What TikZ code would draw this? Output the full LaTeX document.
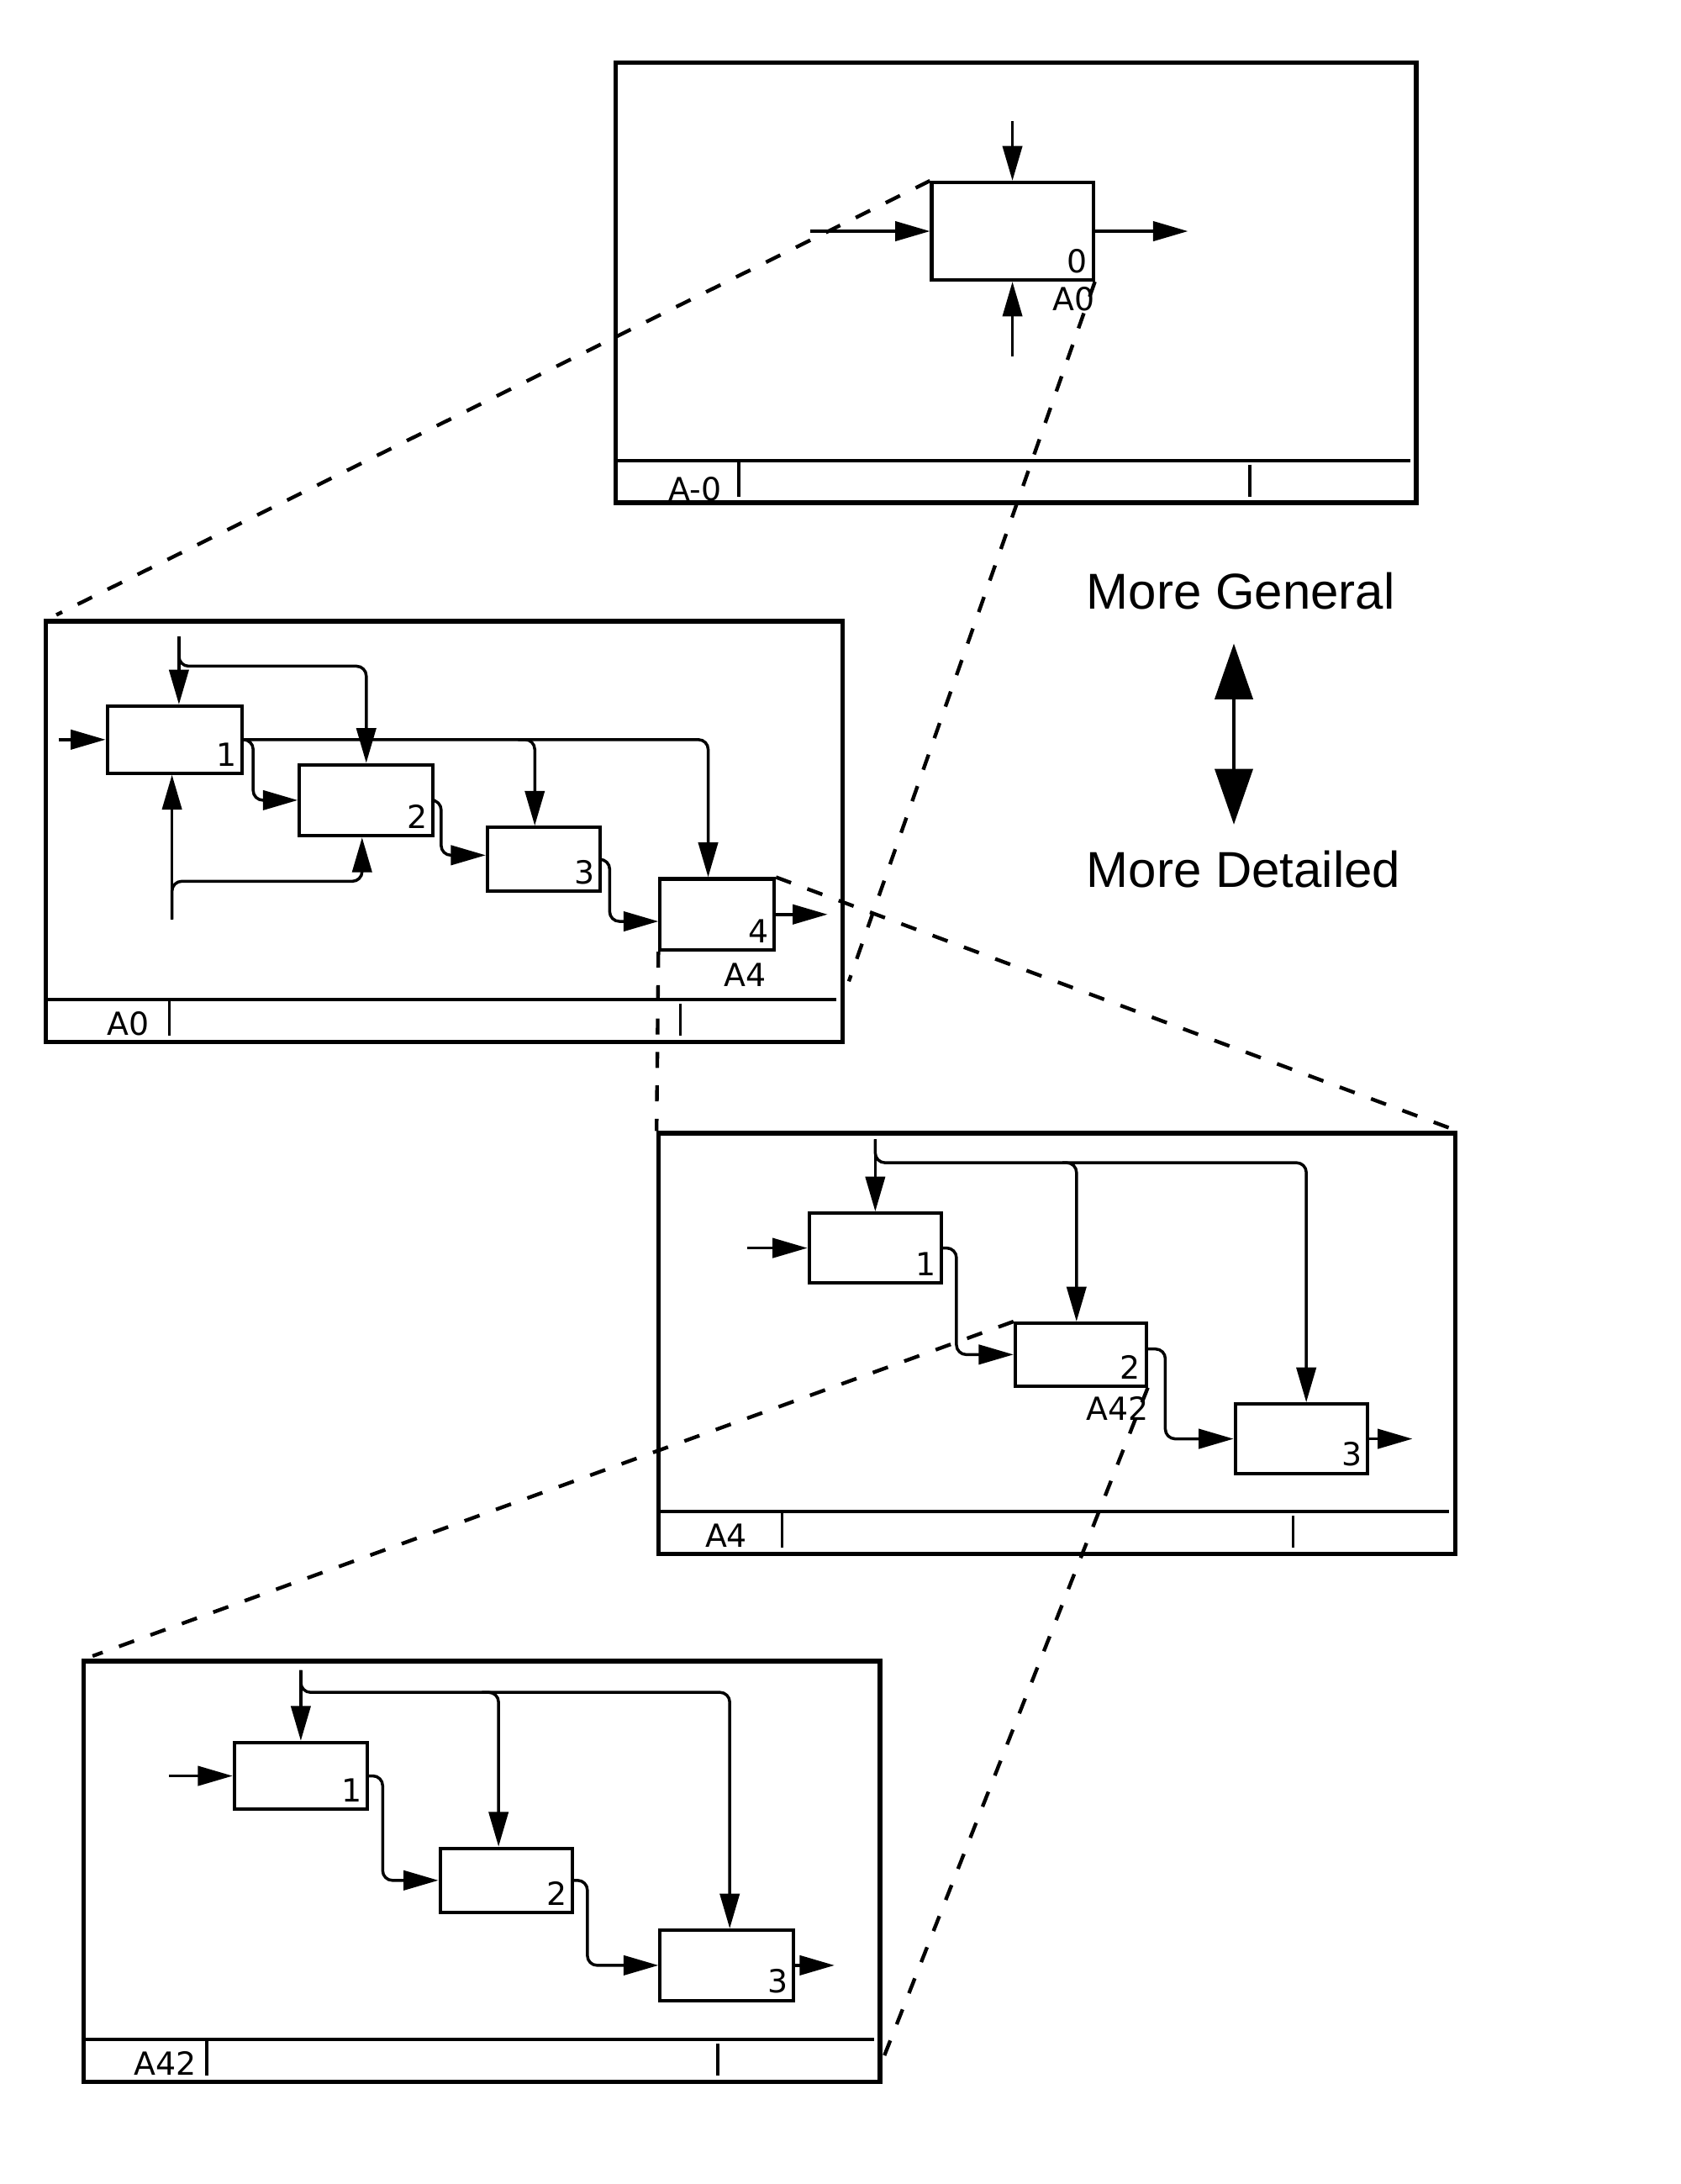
\documentclass[tikz,border=0pt]{standalone}
\usepackage{fontspec}
\setmainfont{DejaVu Sans}
\newfontfamily\levelfont{Liberation Sans}
\usepackage{tikz}
\usetikzlibrary{positioning,arrows.meta,calc}

\begin{document}
\begin{tikzpicture}[
  x=0.02cm, y=-0.02cm,
  sheet/.style={rectangle, draw, line width=1.8pt, inner sep=0pt,
                minimum width=11.44cm, minimum height=6.04cm},
  activity/.style={rectangle, draw, line width=1.4pt, inner sep=0pt,
                   minimum width=1.9cm, minimum height=0.98cm},
  num/.style={font=\fontsize{13}{15}\selectfont, inner sep=0pt},
  flow/.style={-{Triangle[length=0.5cm, width=0.28cm]}, line width=1.2pt, rounded corners=0.14cm},
  zoomline/.style={dash pattern=on 0.23cm off 0.25cm, line width=1.5pt},
  bigarrow/.style={{Triangle[length=0.8cm, width=0.54cm]}-{Triangle[length=0.8cm, width=0.54cm]}, line width=1.6pt},
  levels/.style={font=\levelfont\fontsize{20.6}{24}\selectfont, inner sep=0pt}
]
\useasboundingbox (0,0) rectangle (1207,1568);

\node[sheet, minimum width=11.5cm, minimum height=6.32cm] (F1) at (729.5,203) {};
\node[sheet] (F2) at (319,597) {};
\node[sheet] (F3) at (759,964.5) {};
\node[sheet] (F4) at (346,1343.5) {};

\foreach \f/\t/\dx/\dy in {F1/A-0/58.5/3, F2/A0/60.5/6, F3/A4/50/6, F4/A42/60/6} {
  \draw[line width=1.5pt] ($(\f.south west)+(0,-32)$) -- ($(\f.south east)+(-6,-32)$);
  \draw[line width=1.2pt] ($(\f.south west)+(90,-32)$) -- ($(\f.south west)+(90,-6)$);
  \draw[line width=1.2pt] ($(\f.south west)+(457,-29)$) -- ($(\f.south west)+(457,-6)$);
  \node[num, anchor=base] (\f-id) at ($(\f.south west)+(\dx,-\dy)$) {\t};
}

\node[activity, minimum width=2.32cm, minimum height=1.4cm] (A0box) at (727,166) {};
\node[activity, minimum width=1.94cm, minimum height=0.96cm] (B1) at (125.5,531) {};
\node[activity, minimum width=1.92cm, minimum height=1.02cm] (B2) at (263,574.5) {};
\node[activity, minimum width=1.62cm, minimum height=0.92cm] (B3) at (390.5,617) {};
\node[activity, minimum width=1.64cm, minimum height=1.02cm] (B4) at (515,656.5) {};
\node[activity, minimum height=1.0cm] (C1) at (628.5,896) {};
\node[activity, minimum width=1.88cm, minimum height=0.9cm] (C2) at (776,972.5) {};
\node[activity, minimum height=1.0cm] (C3) at (934.5,1033) {};
\node[activity, minimum width=1.91cm, minimum height=0.96cm] (D1) at (216,1275) {};
\node[activity, minimum height=0.92cm] (D2) at (363.5,1350) {};
\node[activity, minimum width=1.92cm, minimum height=1.01cm] (D3) at (522,1411) {};

\foreach \b/\n in {A0box/0, B1/1, B2/2, B3/3, B4/4, C1/1, C2/2, C3/3, D1/1, D2/2, D3/3}
  \node[num, anchor=south east] (\b-no) at ($(\b.south east)+(-5,-6)$) {\n};

\node[num, anchor=north east] (A0box-ref) at ($(A0box.south east)+(0,3.5)$) {A0};
\node[num, anchor=north east] (B4-ref) at ($(B4.south east)+(-7,8)$) {A4};
\node[num, anchor=north east] (C2-ref) at ($(C2.south east)+(1,6)$) {A42};

% context
\coordinate (ctx-c) at (727,87);
\coordinate (ctx-i) at (582,166);
\coordinate (ctx-o) at (853,166);
\coordinate (ctx-m) at (727,256);
\foreach \s/\e in {ctx-c/A0box.north, ctx-i/A0box.west, A0box.east/ctx-o, ctx-m/A0box.south}
  \draw[flow] (\s) -- (\e);

% A0
\coordinate (a0-c) at (128.5,457);
\coordinate (a0-i) at (42,531);
\coordinate (a0-m) at (123.5,660);
\coordinate (a0-o) at ($(B4.east)+(37,0)$);
\coordinate (b3c) at ($(B3.north)+(-6.5,0)$);
\draw[flow] (a0-c) -- (a0-c |- B1.north);
\draw[flow] (a0-c) |- ($(B2.north)+(0,-69.5)$) -- (B2.north);
\draw[flow] (a0-i) -- (B1.west);
\draw[flow] (a0-m) -- (a0-m |- B1.south);
\draw[flow] (a0-m) |- ($(B2.south)+(-3,31.5)$) -- ($(B2.south)+(-3,0)$);
\draw[flow] (B1.east) -| ($(B4.north)+(-6.5,0)$);
\draw[flow] ($(B1.east -| b3c)+(-12,0)$) -| (b3c);
\draw[flow] (B1.east) -| ($(B2.west)+(-32,0)$) -- (B2.west);
\draw[flow] (B2.east) -| ($(B3.west)+(-32,-3)$) -- ($(B3.west)+(0,-3)$);
\draw[flow] (B3.east) -| ($(B4.west)+(-35,5)$) -- ($(B4.west)+(0,5)$);
\draw[flow] (B4.east) -- (a0-o);

% A4
\coordinate (a4-c) at (628.5,818);
\coordinate (a4-i) at (536.5,896);
\coordinate (a4-o) at ($(C3.east)+(31,0)$);
\coordinate (a4-bus) at ($(C3.north)+(3.5,-172)$);
\coordinate (c2c) at ($(C2.north)+(-3,0)$);
\draw[flow] (a4-c) -- (C1.north);
\draw[flow] (a4-c) |- (a4-bus) -- ($(C3.north)+(3.5,0)$);
\draw[flow] ($(c2c |- a4-bus)+(-10,0)$) -| (c2c);
\draw[flow] (a4-i) -- (C1.west);
\draw[flow] (C1.east) -| ($(C2.west)+(-41,0)$) -- (C2.west);
\draw[flow] ($(C2.east)+(0,-4)$) -| ($(C3.west)+(-49,0)$) -- (C3.west);
\draw[flow] (C3.east) -- (a4-o);

% A42
\coordinate (a42-c) at (216,1199);
\coordinate (a42-i) at (121.5,1275);
\coordinate (a42-o) at ($(D3.east)+(28,0)$);
\coordinate (a42-bus) at ($(D3.north)+(2,-169.5)$);
\coordinate (d2c) at ($(D2.north)+(-5.5,0)$);
\draw[flow] (a42-c) -- (D1.north);
\draw[flow] (a42-c) |- (a42-bus) -- ($(D3.north)+(2,0)$);
\draw[flow] ($(d2c |- a42-bus)+(-12,0)$) -| (d2c);
\draw[flow] (a42-i) -- (D1.west);
\draw[flow] (D1.east) -| ($(D2.west)+(-40,0)$) -- (D2.west);
\draw[flow] (D2.east) -| ($(D3.west)+(-51,0)$) -- (D3.west);
\draw[flow] (D3.east) -- (a42-o);

% decomposition
\draw[zoomline] (A0box.north west) -- ($(F2.north west)+(9,-3)$);
\draw[zoomline] (A0box.south east) -- ($(F2.south east)+(3,-45)$);
\draw[zoomline] (B4.north east) -- (F3.north east);
\draw[zoomline] (B4.south west) -- (F3.north west);
\draw[zoomline] (C2.north west) -- ($(F4.north west)+(8,-2)$);
\draw[zoomline] (C2.south east) -- ($(F4.south east)+(1,-19)$);

\node[levels, anchor=base] (general) at (891,437) {More General};
\node[levels, anchor=base] (detailed) at (893,637) {More Detailed};
\coordinate (lv-top) at (886,462);
\coordinate (lv-bot) at (886,592);
\draw[bigarrow] (lv-top) -- (lv-bot);

\end{tikzpicture}
\end{document}
